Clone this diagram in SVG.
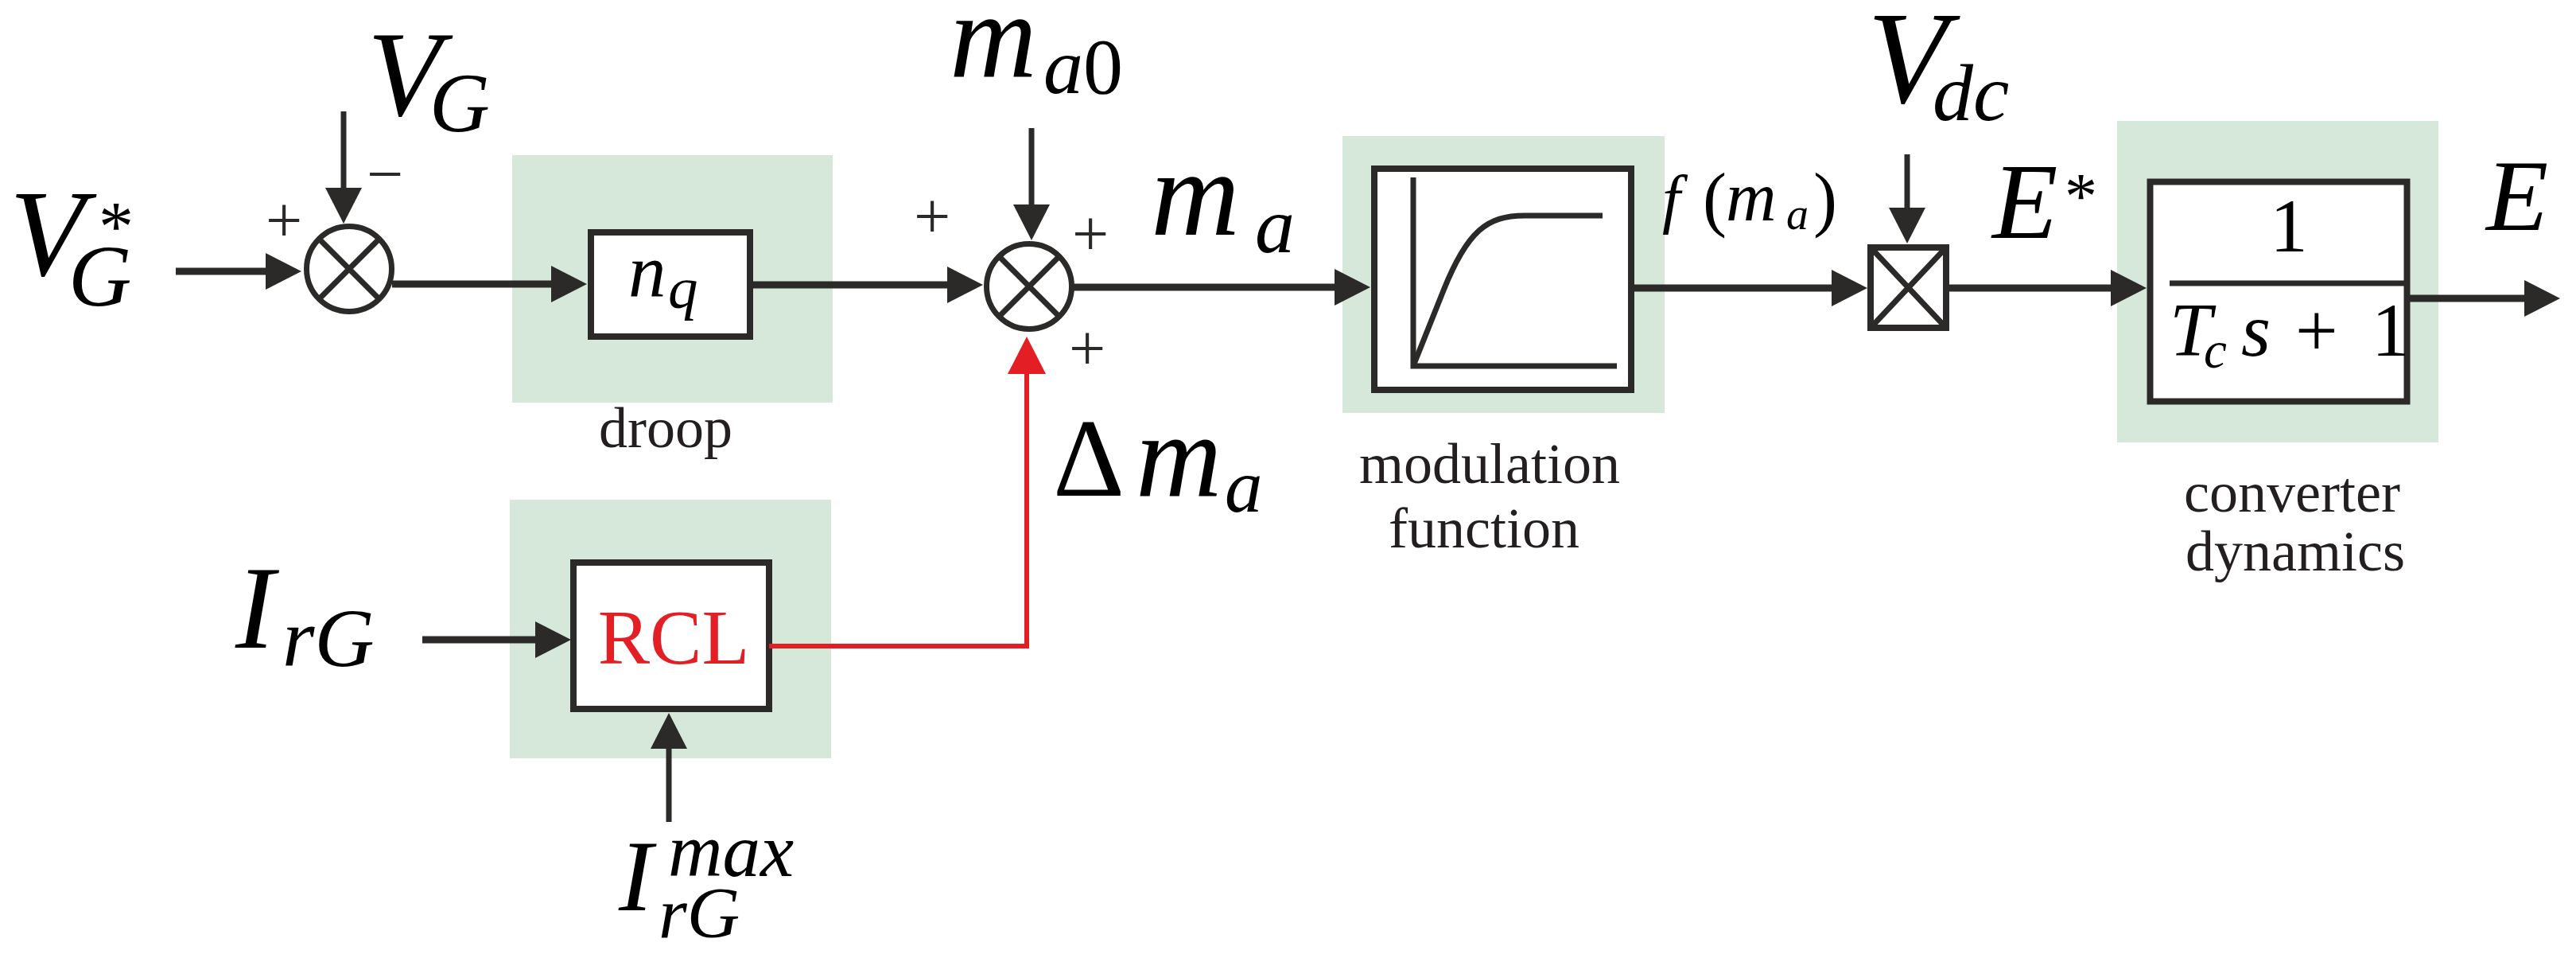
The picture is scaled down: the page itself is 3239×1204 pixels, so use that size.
<svg xmlns="http://www.w3.org/2000/svg" width="3239" height="1204" viewBox="0 0 3239 1204" font-family="Liberation Serif, serif">
<style>
.bg{fill:#d6e8da;stroke:none}
.blk{fill:#fff;stroke:#2b2a29;stroke-width:8}
.sum{fill:#fff;stroke:#2b2a29;stroke-width:7}
.ln{fill:none;stroke:#2b2a29;stroke-width:7}
.wire{fill:none;stroke:#2b2a29;stroke-width:9}
.vwire{fill:none;stroke:#2b2a29;stroke-width:7}
.red{fill:none;stroke:#e31e24;stroke-width:6}
.m{font-style:italic;fill:#000}
.r{font-style:normal;fill:#000}
.lbl{font-size:72px;fill:#231f20;text-anchor:middle}
.sg{font-size:82px;fill:#2b2a29;text-anchor:middle}
</style>
<defs>
<marker id="ah" markerUnits="userSpaceOnUse" markerWidth="48" markerHeight="48" refX="3" refY="23" orient="auto">
<path d="M0,0 L45,23 L0,46 Z" fill="#2b2a29"/>
</marker>
<marker id="ahr" markerUnits="userSpaceOnUse" markerWidth="48" markerHeight="48" refX="3" refY="24" orient="auto">
<path d="M0,0 L47,24 L0,48 Z" fill="#e31e24"/>
</marker>
</defs>

<g id="droop">
<rect class="bg" x="644" y="195" width="403" height="311"/>
<rect class="blk" x="743" y="292" width="200" height="131"/>
<text class="m" x="790" y="373" font-size="95">n</text>
<text class="m" x="840" y="387" font-size="75">q</text>
<text class="lbl" x="837" y="562">droop</text>
</g>

<g id="modulation">
<rect class="bg" x="1688" y="171" width="405" height="348"/>
<rect class="blk" x="1728" y="212" width="323" height="278"/>
<path class="ln" stroke-width="5" d="M1777,223 L1777,460 L2033,460"/>
<path class="ln" stroke-width="6" d="M1777,460 L1815,365 C1845,290 1870,271 1917,271 L2015,271"/>
<text class="lbl" x="1873" y="607">modulation</text>
<text class="lbl" x="1866" y="688">function</text>
</g>

<g id="converter">
<rect class="bg" x="2662" y="152" width="404" height="404"/>
<rect class="blk" x="2703.5" y="228.5" width="323" height="276" stroke-width="7"/>
<line class="ln" stroke-width="5" x1="2728" y1="356" x2="3025" y2="356"/>
<text class="r" x="2878" y="316" font-size="95" text-anchor="middle">1</text>
<text class="m" x="2728" y="447" font-size="95">T</text>
<text class="m" x="2771" y="462" font-size="65">c</text>
<text class="m" x="2818" y="447" font-size="95">s</text>
<text class="r" x="2886" y="447" font-size="95">+</text>
<text class="r" x="2982" y="447" font-size="95">1</text>
<text class="lbl" x="2882" y="643">converter</text>
<text class="lbl" x="2886" y="717">dynamics</text>
</g>

<g id="rcl">
<rect class="bg" x="641" y="628" width="404" height="325"/>
<rect class="blk" x="721" y="707" width="246" height="184"/>
<text x="847" y="834" font-size="98" fill="#e31e24" text-anchor="middle">RCL</text>
</g>

<g id="sum1">
<circle class="sum" cx="439" cy="338" r="53.5"/>
<path class="ln" d="M403,302 L475,374 M475,302 L403,374"/>
<text class="sg" x="357" y="304">+</text>
<text class="sg" x="484" y="246">−</text>
</g>

<g id="sum2">
<circle class="sum" cx="1294" cy="360" r="53.5"/>
<path class="ln" d="M1258,324 L1330,396 M1330,324 L1258,396"/>
<text class="sg" x="1172" y="299">+</text>
<text class="sg" x="1371" y="321">+</text>
<text class="sg" x="1367" y="465">+</text>
</g>

<g id="multiplier">
<rect class="blk" x="2352" y="311" width="95" height="101" stroke-width="6"/>
<path class="ln" stroke-width="6" d="M2352,311 L2447,412 M2447,311 L2352,412"/>
</g>

<g id="labels">
<text class="m" x="12" y="346" font-size="155">V</text>
<text class="m" x="86" y="384" font-size="110">G</text>
<text class="r" x="124" y="314" font-size="88">*</text>

<text class="m" x="462" y="145" font-size="152">V</text>
<text class="m" x="540" y="165" font-size="105">G</text>

<text class="m" x="1194" y="96" font-size="152">m</text>
<text class="m" x="1312" y="117" font-size="100">a</text>
<text class="r" x="1362" y="117" font-size="100">0</text>

<text class="m" x="1447" y="295" font-size="155">m</text>
<text class="m" x="1578" y="317" font-size="100">a</text>

<text class="r" x="1324" y="623" font-size="140">Δ</text>
<text class="m" x="1428" y="623" font-size="150">m</text>
<text class="m" x="1540" y="643" font-size="95">a</text>

<text class="m" x="2090" y="277" font-size="82">f</text>
<text class="r" x="2141" y="280" font-size="90">(</text>
<text class="m" x="2170" y="277" font-size="88">m</text>
<text class="m" x="2246" y="288" font-size="56">a</text>
<text class="r" x="2280" y="280" font-size="90">)</text>

<text class="m" x="2348" y="129" font-size="165">V</text>
<text class="m" x="2430" y="151" font-size="102">dc</text>

<text class="m" x="2505" y="299" font-size="135">E</text>
<text class="r" x="2596" y="274" font-size="82">*</text>

<text class="m" x="3126" y="289" font-size="128">E</text>

<text class="m" x="296" y="814" font-size="148">I</text>
<text class="m" x="355" y="837" font-size="104">rG</text>

<text class="m" x="778" y="1144" font-size="128">I</text>
<text class="m" x="840" y="1101" font-size="95">max</text>
<text class="m" x="828" y="1178" font-size="92">rG</text>
</g>

<g id="connectors">
<line class="wire" x1="221" y1="341" x2="337" y2="341" marker-end="url(#ah)"/>
<line class="vwire" x1="432" y1="140" x2="432" y2="239" marker-end="url(#ah)"/>
<line class="wire" x1="493" y1="357" x2="696" y2="357" marker-end="url(#ah)"/>
<line class="wire" x1="943" y1="358" x2="1194" y2="358" marker-end="url(#ah)"/>
<line class="vwire" x1="1297" y1="161" x2="1297" y2="260" marker-end="url(#ah)"/>
<line class="wire" x1="1348" y1="361" x2="1681" y2="361" marker-end="url(#ah)"/>
<line class="wire" x1="2051" y1="362" x2="2306" y2="362" marker-end="url(#ah)"/>
<line class="vwire" x1="2398" y1="194" x2="2398" y2="264" marker-end="url(#ah)"/>
<line class="wire" x1="2447" y1="362" x2="2657" y2="362" marker-end="url(#ah)"/>
<line class="wire" x1="3027" y1="375" x2="3177" y2="375" marker-end="url(#ah)"/>
<line class="wire" x1="531" y1="804" x2="676" y2="804" marker-end="url(#ah)"/>
<line class="vwire" x1="841" y1="1033" x2="841" y2="938" marker-end="url(#ah)"/>
<path class="red" d="M967,812 L1291,812 L1291,467" marker-end="url(#ahr)"/>
</g>
</svg>
